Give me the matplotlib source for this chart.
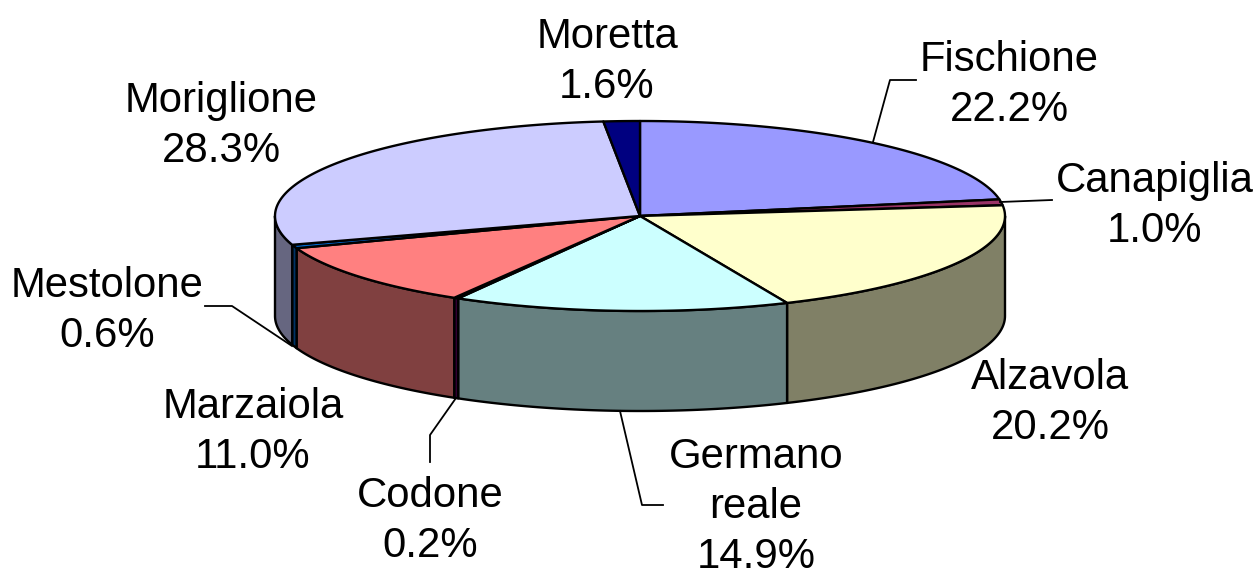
import matplotlib
matplotlib.use("Agg")
import matplotlib.pyplot as plt
import numpy as np

names = ["Fischione", "Canapiglia", "Alzavola", "Germano\nreale", "Codone",
         "Marzaiola", "Mestolone", "Moriglione", "Moretta"]
shares = [22.2, 1.0, 20.2, 14.9, 0.2, 11.0, 0.6, 28.3, 1.6]
top_colors = ["#9999FF", "#993366", "#FFFFCC", "#CCFFFF", "#660066",
              "#FF8080", "#0066CC", "#CCCCFF", "#000080"]
side_colors = ["#666680", "#4D1A33", "#808066", "#668080", "#330033",
               "#804040", "#003366", "#666680", "#000040"]

# pie geometry, in image pixels
cx, cy = 640, 216
rx, ry = 365, 95
depth = 100


def arc(t0, t1, shift=0):
    # t is measured clockwise from 12 o'clock
    t = np.linspace(t0, t1, max(int((t1 - t0) * 60), 2))
    return cx + rx * np.sin(t), cy - ry * np.cos(t) + shift


plt.rcParams["font.family"] = ["Liberation Sans", "DejaVu Sans"]
fig = plt.figure(figsize=(12.6, 5.68), dpi=100)
ax = fig.add_axes([0, 0, 1, 1])
ax.set_xlim(0, 1260)
ax.set_ylim(568, 0)
ax.axis("off")

edges = np.radians(np.cumsum([0] + shares) * 360 / sum(shares))

# walls first, then the top face over them
for i in range(len(shares)):
    a = max(edges[i], np.pi / 2)
    b = min(edges[i + 1], 3 * np.pi / 2)
    if b > a:
        x, y = arc(a, b)
        xb, yb = arc(a, b, depth)
        ax.fill(np.r_[x, xb[::-1]], np.r_[y, yb[::-1]], fc=side_colors[i],
                ec="black", lw=1.7, joinstyle="round")

for i in range(len(shares)):
    x, y = arc(edges[i], edges[i + 1])
    ax.fill(np.r_[cx, x], np.r_[cy, y], fc=top_colors[i], ec="black", lw=1.7,
            joinstyle="round")

# leader lines
leaders = [
    ([873, 890, 916], [142, 80, 80]),
    ([1000, 1052], [202, 200]),
    ([620, 642, 663], [411, 505, 505]),
    ([456, 430, 430], [398, 435, 462]),
    ([292, 232, 205], [346, 306, 306]),
]
for lx, ly in leaders:
    ax.plot(lx, ly, color="black", lw=1.3)

label_pos = [(1009, 85), (1155, 206), (1050, 403), (756, 507), (430, 521),
             (253, 432), (107, 311), (221, 126), (607, 62)]
for name, share, (tx, ty) in zip(names, shares, label_pos):
    ax.text(tx, ty, "{}\n{:.1f}%".format(name, share), ha="center", va="center",
            fontsize=30.2, color="black", linespacing=1.31)

fig.savefig("out.png", dpi=100)
